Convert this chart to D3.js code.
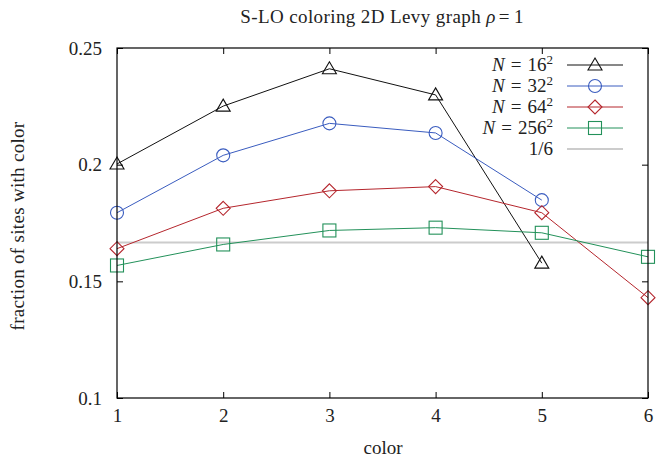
<!DOCTYPE html>
<html><head><meta charset="utf-8">
<script src="https://cdn.jsdelivr.net/npm/d3@7"></script>
<style>body{margin:0;background:#fff}svg{display:block}text{font-family:"Liberation Serif","DejaVu Serif",serif;fill:#222}</style>
</head><body><svg id="c" width="657" height="459"></svg>
<script>
const colors = [1, 2, 3, 4, 5, 6];
const xTicks = [1, 2, 3, 4, 5, 6];
const yTicks = [0.1, 0.15, 0.2, 0.25];
const yTickLabels = ["0.1", "0.15", "0.2", "0.25"];
const n16 = [0.2003, 0.2251, 0.2411, 0.2299, 0.1578];
const n32 = [0.1794, 0.2040, 0.2177, 0.2136, 0.1848];
const n64 = [0.1640, 0.1813, 0.1888, 0.1906, 0.1794, 0.1430];
const n256 = [0.1568, 0.1658, 0.1718, 0.1730, 0.1708, 0.1605];
const reference = 1 / 6;
const seriesNames = ["16", "32", "64", "256"];

const svg = d3.select("#c");
const L = 117, R = 648, T = 48, B = 398;
const x = d3.scaleLinear().domain([1, 6]).range([L, R]);
const y = d3.scaleLinear().domain([0.1, 0.25]).range([B, T]);

const series = [
  {name: seriesNames[0], vals: n16, color: "#111111", sym: "tri"},
  {name: seriesNames[1], vals: n32, color: "#3a5cbf", sym: "circ"},
  {name: seriesNames[2], vals: n64, color: "#b5262d", sym: "dia"},
  {name: seriesNames[3], vals: n256, color: "#23915a", sym: "sq"}
];

svg.append("line").attr("x1", x(1)).attr("x2", x(6)).attr("y1", y(reference)).attr("y2", y(reference))
  .attr("stroke", "#cccccc").attr("stroke-width", 2);

function marker(g, sym, cx, cy, color) {
  if (sym === "tri") {
    g.append("path").attr("d", `M${cx},${cy-7}L${cx+7},${cy+5}L${cx-7},${cy+5}Z`)
      .attr("fill", "none").attr("stroke", color).attr("stroke-width", 1.1);
  } else if (sym === "circ") {
    g.append("circle").attr("cx", cx).attr("cy", cy).attr("r", 6.5)
      .attr("fill", "none").attr("stroke", color).attr("stroke-width", 1.1);
  } else if (sym === "dia") {
    g.append("path").attr("d", `M${cx},${cy-7}L${cx+7},${cy}L${cx},${cy+7}L${cx-7},${cy}Z`)
      .attr("fill", "none").attr("stroke", color).attr("stroke-width", 1.1);
  } else {
    g.append("rect").attr("x", cx-6.5).attr("y", cy-6.5).attr("width", 13).attr("height", 13)
      .attr("fill", "none").attr("stroke", color).attr("stroke-width", 1.1);
  }
}

const line = d3.line().x((d, i) => x(colors[i])).y(d => y(d));
series.forEach(s => {
  const g = svg.append("g");
  g.append("path").attr("d", line(s.vals)).attr("fill", "none").attr("stroke", s.color).attr("stroke-width", 1);
  s.vals.forEach((v, i) => marker(g, s.sym, x(colors[i]), y(v), s.color));
});

svg.append("rect").attr("x", L).attr("y", T).attr("width", R - L).attr("height", B - T)
  .attr("fill", "none").attr("stroke", "#000").attr("stroke-width", 1.2);

const xb = svg.append("g").attr("transform", `translate(0,${B})`)
  .call(d3.axisBottom(x).tickValues(xTicks).tickSize(-6).tickPadding(11).tickFormat(d3.format("d")));
const xt = svg.append("g").attr("transform", `translate(0,${T})`)
  .call(d3.axisTop(x).tickValues(xTicks).tickSize(-6).tickFormat(""));
const yl = svg.append("g").attr("transform", `translate(${L},0)`)
  .call(d3.axisLeft(y).tickValues(yTicks).tickSize(-6).tickPadding(15).tickFormat((d, i) => yTickLabels[i]));
const yr = svg.append("g").attr("transform", `translate(${R},0)`)
  .call(d3.axisRight(y).tickValues(yTicks).tickSize(-6).tickFormat(""));
[xb, xt, yl, yr].forEach(a => {
  a.select(".domain").remove();
  a.selectAll(".tick line").attr("stroke", "#000");
  a.selectAll("text").style("font-family", '"Liberation Serif",serif').style("font-size", "19px").attr("fill", "#222");
});

const title = svg.append("text").attr("x", 382).attr("y", 23).attr("text-anchor", "middle")
  .style("font-size", "19px").style("letter-spacing", "0.4px");
title.append("tspan").text("S-LO coloring 2D Levy graph ");
title.append("tspan").style("font-style", "italic").text("ρ");
title.append("tspan").attr("dx", 3).text("=");
title.append("tspan").attr("dx", 4).text("1");

svg.append("text").attr("x", 383).attr("y", 454).attr("text-anchor", "middle").style("font-size", "19px").text("color");
svg.append("text").attr("transform", "translate(24,226) rotate(-90)").attr("text-anchor", "middle")
  .style("font-size", "19px").style("letter-spacing", "0.3px").text("fraction of sites with color");

const legY = [65, 86, 107, 128];
series.forEach((s, i) => {
  const t = svg.append("text").attr("x", 553).attr("y", legY[i] + 6).attr("text-anchor", "end").style("font-size", "19px");
  t.append("tspan").style("font-style", "italic").text("N");
  t.append("tspan").attr("dx", 6).text("=");
  t.append("tspan").attr("dx", 6).text(s.name);
  t.append("tspan").attr("dy", -7).style("font-size", "13px").text("2");
  svg.append("line").attr("x1", 567).attr("x2", 623).attr("y1", legY[i]).attr("y2", legY[i]).attr("stroke", s.color).attr("stroke-width", 1);
  marker(svg, s.sym, 595, legY[i], s.color);
});
svg.append("text").attr("x", 553).attr("y", 155).attr("text-anchor", "end").style("font-size", "19px").text("1/6");
svg.append("line").attr("x1", 567).attr("x2", 623).attr("y1", 149).attr("y2", 149).attr("stroke", "#cccccc").attr("stroke-width", 2);
</script></body></html>
